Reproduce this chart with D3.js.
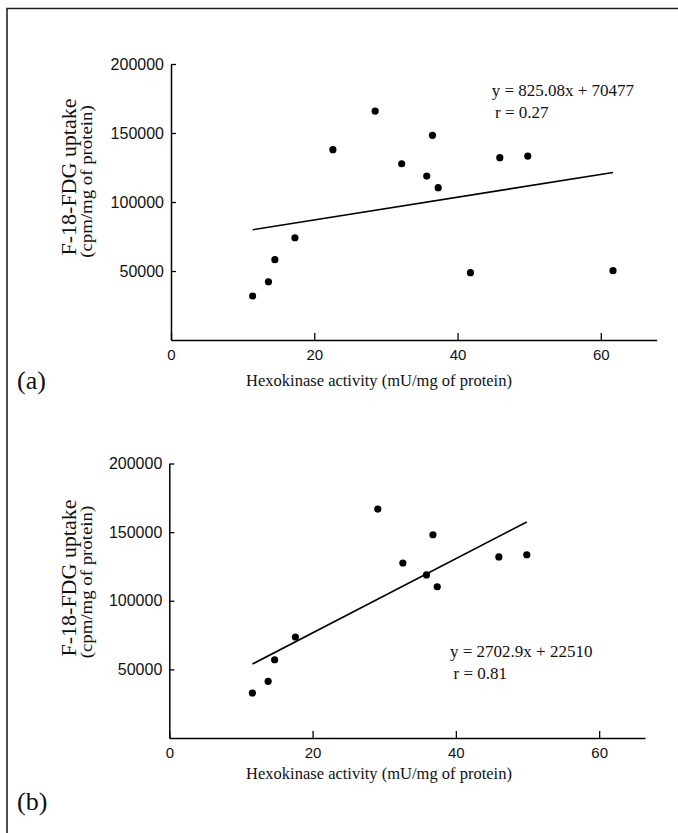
<!DOCTYPE html>
<html><head><meta charset="utf-8">
<script src="https://cdn.jsdelivr.net/npm/d3@7"></script>
<style>html,body{margin:0;padding:0;background:#fff;} svg{display:block;}</style>
</head><body>
<svg id="c" width="678" height="833"></svg>
<script>
// ---- data ----
const xTicks = [0, 20, 40, 60];
const yTicks = [50000, 100000, 150000, 200000];
const activityA = [11.4, 13.6, 14.5, 17.3, 22.6, 28.5, 32.2, 35.7, 36.5, 37.3, 41.8, 45.9, 49.8, 61.7];
const uptakeA   = [31900, 42200, 58200, 74100, 137900, 165900, 127700, 118800, 148300, 110400, 48800, 132100, 133300, 50200];
const activityB = [11.6, 13.8, 14.7, 17.6, 29.1, 32.6, 35.9, 36.8, 37.4, 46.0, 49.9];
const uptakeB   = [32800, 41300, 57000, 73600, 166800, 127500, 118800, 148100, 110200, 131900, 133500];
const fitSlopes = [825.08, 2702.9];
const fitIntercepts = [70477, 22510];
const fitEquations = ["y = 825.08x + 70477", "y = 2702.9x + 22510"];
const fitR = ["r = 0.27", "r = 0.81"];
const panelLabels = ["(a)", "(b)"];
const xTitle = "Hexokinase activity (mU/mg of protein)";
const yTitle1 = "F-18-FDG uptake";
const yTitle2 = "(cpm/mg of protein)";
const xMax = [67.8, 66.4];

// ---- layout ----
const layout = [
  {x0:171, x1:656.7, yB:340, yT:64, eqX:491.7, eqY:95.5, rX:495, rY:118, yt1:[76,177], yt2:[92,181.5], xtY:386, lab:[17,389]},
  {x0:169.3, x1:645, yB:738, yT:463.5, eqX:450, eqY:656.5, rX:453.5, rY:678.5, yt1:[76,578], yt2:[92,582], xtY:779, lab:[17,810]}
];
const serif = "'Liberation Serif','Times New Roman',serif";
const sans = "'Liberation Sans',Arial,sans-serif";

const svg = d3.select("#c");
svg.append("rect").attr("width",678).attr("height",833).attr("fill","#fff");
// frame (top + left)
svg.append("path").attr("d","M7,833 V8.5 H678").attr("fill","none").attr("stroke","#222").attr("stroke-width",1.6);

const datasets = [[activityA, uptakeA], [activityB, uptakeB]];

datasets.forEach(([xs, ys], i) => {
  const L = layout[i];
  const x = d3.scaleLinear().domain([0, xMax[i]]).range([L.x0, L.x1]);
  const y = d3.scaleLinear().domain([0, 200000]).range([L.yB, L.yT]);
  const g = svg.append("g");

  const xa = g.append("g").attr("transform", `translate(0,${L.yB})`)
    .call(d3.axisBottom(x).tickValues(xTicks).tickSizeInner(-7).tickSizeOuter(0).tickPadding(9).tickFormat(d3.format("d")));
  const ya = g.append("g").attr("transform", `translate(${L.x0},0)`)
    .call(d3.axisLeft(y).tickValues(yTicks).tickSizeInner(-5).tickSizeOuter(0).tickPadding(7).tickFormat(d3.format("d")));
  [xa, ya].forEach(a => {
    a.select(".domain").attr("stroke","#000").attr("stroke-width",1.5);
    a.selectAll(".tick line").attr("stroke","#000").attr("stroke-width",1.3);
    a.selectAll(".tick text").attr("font-family", sans).attr("fill","#111");
  });
  xa.selectAll(".tick text").attr("font-size", 15);
  ya.selectAll(".tick text").attr("font-size", 16);

  // regression line across data range
  const ext = d3.extent(xs);
  const line = d3.line().x(d => x(d)).y(d => y(fitSlopes[i]*d + fitIntercepts[i]));
  g.append("path").attr("d", line(ext)).attr("fill","none").attr("stroke","#000").attr("stroke-width",1.6);

  // points
  g.selectAll("circle.pt").data(xs.map((v, k) => [v, ys[k]])).join("circle")
    .attr("class","pt").attr("cx", d => x(d[0])).attr("cy", d => y(d[1])).attr("r", 3.6).attr("fill","#000");

  // equation
  g.append("text").attr("x", L.eqX).attr("y", L.eqY).attr("font-family", serif).attr("font-size", 17).attr("fill","#111").text(fitEquations[i]);
  g.append("text").attr("x", L.rX).attr("y", L.rY).attr("font-family", serif).attr("font-size", 17).attr("fill","#111").text(fitR[i]);

  // axis titles
  g.append("text").attr("transform", `translate(${L.yt1[0]},${L.yt1[1]}) rotate(-90) scale(1.1,1)`).attr("text-anchor","middle")
    .attr("font-family", serif).attr("font-size", 20).attr("fill","#111").text(yTitle1);
  g.append("text").attr("transform", `translate(${L.yt2[0]},${L.yt2[1]}) rotate(-90) scale(1.14,1)`).attr("text-anchor","middle")
    .attr("font-family", serif).attr("font-size", 16.5).attr("fill","#111").text(yTitle2);
  g.append("text").attr("x", 379).attr("y", L.xtY).attr("text-anchor","middle")
    .attr("font-family", serif).attr("font-size", 16.5).attr("fill","#111").text(xTitle);

  // panel label
  g.append("text").attr("x", L.lab[0]).attr("y", L.lab[1]).attr("font-family", serif).attr("font-size", 26).attr("fill","#111").text(panelLabels[i]);
});
</script>
</body></html>
